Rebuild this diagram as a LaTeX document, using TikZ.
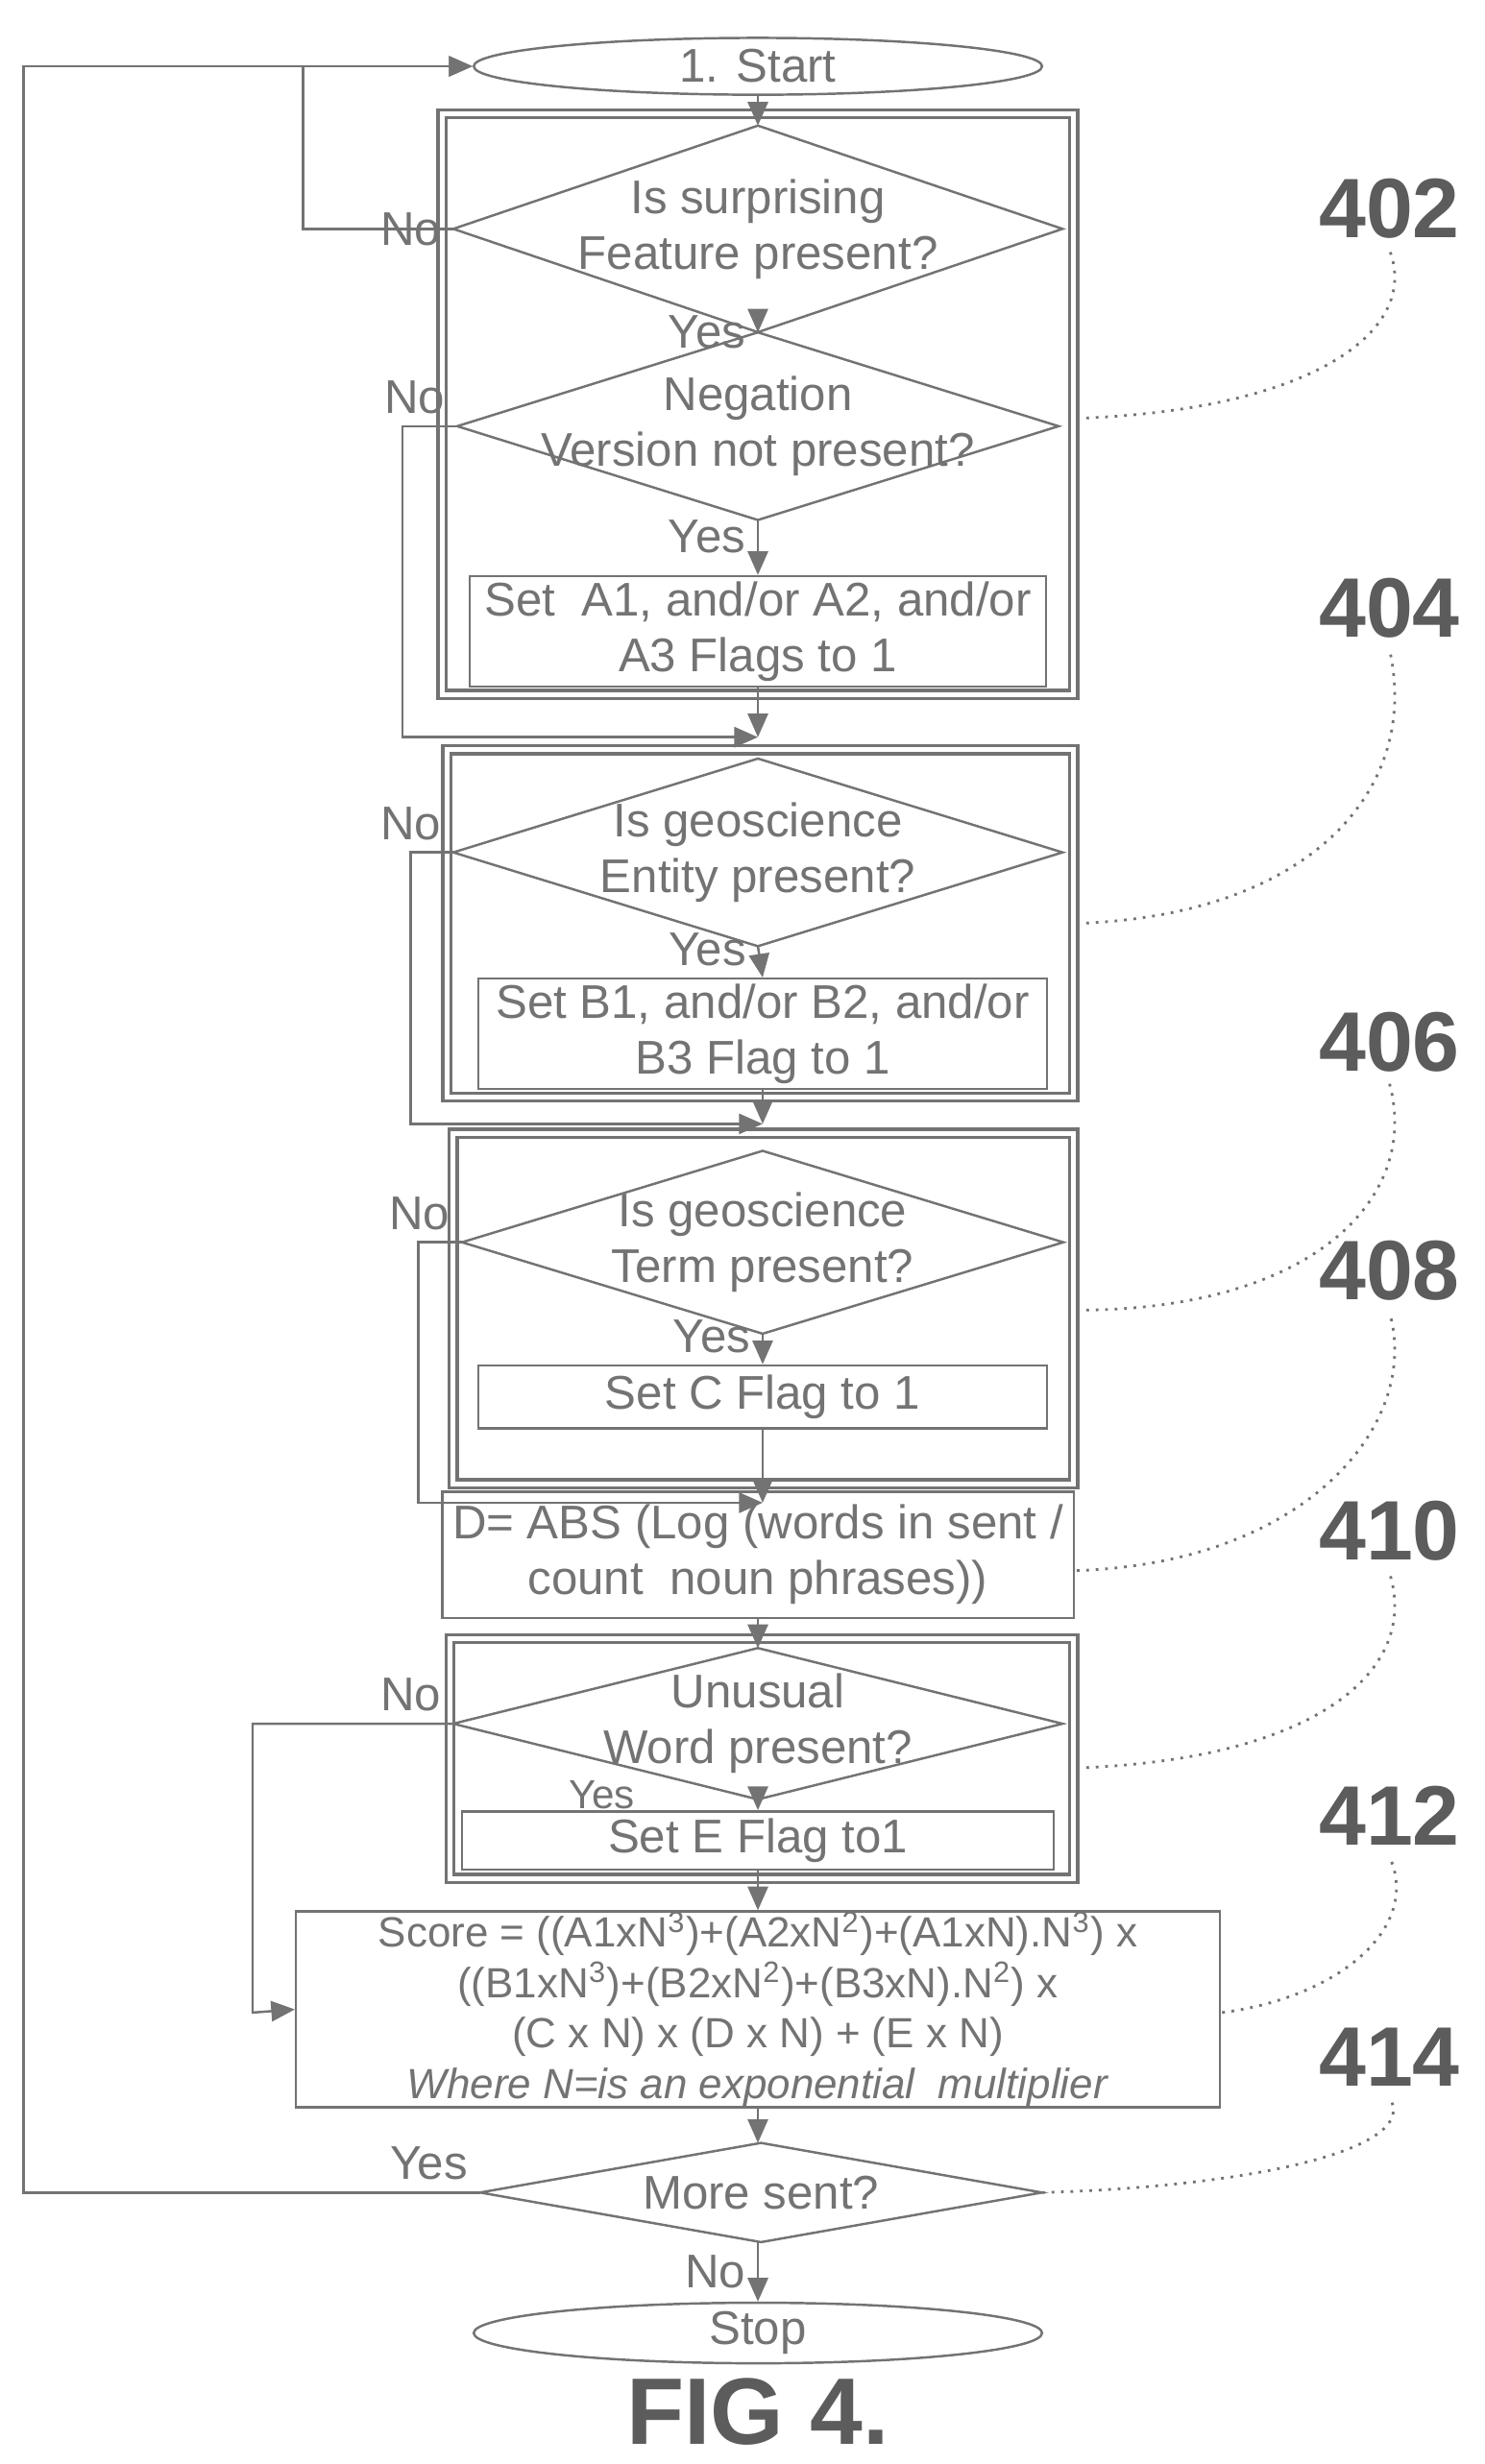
\documentclass[tikz,border=0pt]{standalone}
\usepackage{fontspec}
\setmainfont{Liberation Sans}
\usetikzlibrary{shapes.geometric,arrows.meta}
\definecolor{ink}{gray}{0.45}
\newcommand{\pxu}{*0.01644cm}
\tikzset{
  every node/.style={text=ink,font=\fontsize{14}{16.5}\selectfont},
  line/.style={draw=ink,line width=0.7pt},
  arr/.style={line,-{Triangle[length=7pt,width=6pt]}},
  term/.style={line,ellipse,minimum width=360\pxu,minimum height=36\pxu,inner sep=0pt},
  dec/.style={rectangle,inner sep=0pt,align=center},
  proc/.style={line,rectangle,inner sep=0pt,align=center},
  frame/.style={draw=ink,double,double distance=1.5pt,line width=0.9pt},
  lead/.style={draw=ink,dotted,line width=0.8pt},
  num/.style={font=\fontsize{25}{25}\bfseries\selectfont,text=ink!80!black},
  lbl/.style={font=\fontsize{14}{16}\selectfont}
}
\begin{document}
\begin{tikzpicture}[x=0.01644cm,y=-0.01644cm]
\useasboundingbox (0,0) rectangle (940,1561);
% frames
\draw[frame] (280,72) rectangle (680,440);
\draw[frame] (283,475) rectangle (680,695);
\draw[frame] (287,718) rectangle (680,940);
\draw[frame] (285,1038) rectangle (680,1190);
% nodes
\node[term] (start) at (480,42) {1. Start};
\node[dec,minimum width=385\pxu,minimum height=130\pxu] (surp) at (480,145) {Is surprising\\Feature present?};
\node[dec,minimum width=380\pxu,minimum height=118\pxu] (neg) at (480,270) {Negation\\Version not present?};
\node[proc,minimum width=365\pxu,minimum height=70\pxu] (seta) at (480,400) {Set\ \ A1, and/or A2, and/or\\A3 Flags to 1};
\node[dec,minimum width=385\pxu,minimum height=118\pxu] (ent) at (480,540) {Is geoscience\\Entity present?};
\node[proc,minimum width=360\pxu,minimum height=70\pxu] (setb) at (483,655) {Set B1, and/or B2, and/or\\B3 Flag to 1};
\node[dec,minimum width=380\pxu,minimum height=115\pxu] (term) at (483,787) {Is geoscience\\Term present?};
\node[proc,minimum width=360\pxu,minimum height=40\pxu] (setc) at (483,885) {Set C Flag to 1};
\node[proc,minimum width=400\pxu,minimum height=80\pxu] (setd) at (480,985) {D= ABS (Log (words in sent /\\count\ \ noun phrases))};
\node[dec,minimum width=385\pxu,minimum height=95\pxu] (unus) at (480,1092) {Unusual\\Word present?};
\node[proc,minimum width=375\pxu,minimum height=37\pxu] (sete) at (480,1166) {Set E Flag to1};
\node[proc,minimum width=585\pxu,minimum height=123\pxu,font=\fontsize{12.5}{15}\selectfont] (score) at (480,1273) {Score = ((A1xN\textsuperscript{3})+(A2xN\textsuperscript{2})+(A1xN).N\textsuperscript{3}) x\\((B1xN\textsuperscript{3})+(B2xN\textsuperscript{2})+(B3xN).N\textsuperscript{2}) x\\(C x N) x (D x N) + (E x N)\\\textit{Where N=is an exponential\ \ multiplier}};
\node[dec,minimum width=355\pxu,minimum height=62\pxu] (more) at (482,1389) {More sent?};
\node[term,minimum height=38\pxu] (stop) at (480,1478) {Stop};
\node[font=\fontsize{28}{28}\bfseries\selectfont,text=ink!80!black] (fig) at (480,1528) {FIG 4.};
\foreach \d in {surp,neg,ent,term,unus,more}
  \draw[line] (\d.north) -- (\d.east) -- (\d.south) -- (\d.west) -- cycle;
% connectors
\draw[arr] (start.south) -- (surp.north);
\draw[arr] (surp.south) -- node[lbl,left,pos=0.1] {Yes} (neg.north);
\draw[arr] (neg.south) -- node[lbl,left,pos=0.3] {Yes} (seta.north);
\coordinate (in404) at (480,467);
\draw[arr] (seta.south) -- (in404);
\draw[arr] (ent.south) -- node[lbl,left,pos=0.1] {Yes} (setb.north);
\coordinate (in406) at (483,712);
\draw[arr] (setb.south) -- (in406);
\draw[arr] (term.south) -- node[lbl,left,pos=0.1] {Yes} (setc.north);
\coordinate (in408) at (483,952);
\draw[arr] (setc.south) -- (in408);
\draw[arr] (setd.south) -- (unus.north);
\draw[arr] (unus.south) -- node[lbl,pos=0,anchor=east,xshift=-70\pxu,yshift=3\pxu,font=\fontsize{12}{14}\selectfont] {Yes} (sete.north);
\draw[arr] (sete.south) -- (score.north);
\draw[arr] (score.south) -- (more.north -| score.south);
\draw[arr] (more.south -| stop.north) -- node[lbl,left] {No} (stop.north);
% no / loop branches
\draw[arr] (surp.west) -- node[lbl,left,pos=0] {No} (192,145) -- (192,42) -- (start.west);
\draw[arr] (neg.west) -- node[lbl,above left,pos=0] {No} (255,270) -- (255,467) -- (in404);
\draw[arr] (ent.west) -- node[lbl,above left,pos=0] {No} (260,540) -- (260,712) -- (in406);
\draw[arr] (term.west) -- node[lbl,above left,pos=0] {No} (265,787) -- (265,952) -- (in408);
\draw[arr] (unus.west) -- node[lbl,above left,pos=0] {No} (160,1092) -- (160,1275) -- (score.west);
\draw[arr] (more.west) -- node[lbl,above left,pos=0] {Yes} (15,1389) -- (15,42) -- (start.west);
% reference numerals
\node[num] (n402) at (880,132) {402};
\node[num] (n404) at (880,385) {404};
\node[num] (n406) at (880,660) {406};
\node[num] (n408) at (880,805) {408};
\node[num] (n410) at (880,970) {410};
\node[num] (n412) at (880,1150) {412};
\node[num] (n414) at (880,1303) {414};
\draw[lead] (682,265) .. controls (830,260) and (900,210) .. (n402.south);
\draw[lead] (682,585) .. controls (830,580) and (900,500) .. (n404.south);
\draw[lead] (682,830) .. controls (830,830) and (900,760) .. (n406.south);
\draw[lead] (682,995) .. controls (830,990) and (900,900) .. (n408.south);
\draw[lead] (682,1120) .. controls (830,1115) and (900,1060) .. (n410.south);
\draw[lead] (774,1275) .. controls (850,1265) and (900,1220) .. (n412.south);
\draw[lead] (660,1389) .. controls (800,1385) and (900,1360) .. (n414.south);
\end{tikzpicture}
\end{document}
